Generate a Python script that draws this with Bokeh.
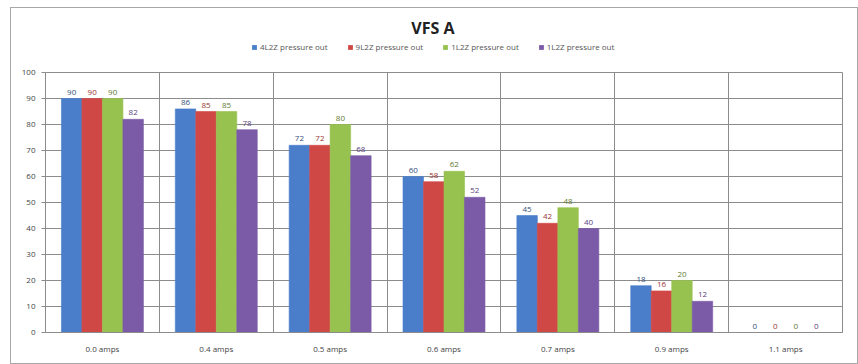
from bokeh.plotting import figure
from bokeh.layouts import column
from bokeh.models import (ColumnDataSource, FixedTicker, Legend, LegendItem,
                          LabelSet, Label, Range1d)
from bokeh.core.properties import value
from bokeh.embed import file_html
from bokeh.resources import INLINE

# Drive current steps and the four pressure series
categories = ["0.0 amps", "0.4 amps", "0.5 amps", "0.6 amps", "0.7 amps", "0.9 amps", "1.1 amps"]
series_names = ["4L2Z pressure out", "9L2Z pressure out", "1L2Z pressure out", "1L2Z pressure out"]
s1 = [90, 86, 72, 60, 45, 18, 0]
s2 = [90, 85, 72, 58, 42, 16, 0]
s3 = [90, 85, 80, 62, 48, 20, 0]
s4 = [82, 78, 68, 52, 40, 12, 0]
y_ticks = [0, 10, 20, 30, 40, 50, 60, 70, 80, 90, 100]

colors = ["#4a7ecb", "#d04846", "#97c24f", "#7b5ba7"]
label_colors = ["#34507a", "#9a3533", "#5e7a30", "#5a4380"]
offsets = [-0.27, -0.09, 0.09, 0.27]
bar_w = 0.18
FONT = "Open Sans"

# ---- header: chart title and series legend ----
head = figure(width=846, height=58, output_backend="svg", toolbar_location=None,
              x_range=Range1d(0, 1), y_range=Range1d(0, 1),
              min_border=0, outline_line_color=None)
head.axis.visible = False
head.grid.visible = False
head.add_layout(Label(x=0.486, y=0.67, text="VFS A", text_align="center",
                      text_baseline="middle", text_font=FONT,
                      text_font_size="16px", text_font_style="bold",
                      text_color="#222222"))
legend_items = []
for k in range(4):
    # zero-height swatch proxies: only their legend glyph shows
    r = head.vbar(x=[0.5], top=[0], bottom=[0], width=0.01,
                  fill_color=colors[k], line_color=colors[k], line_alpha=0)
    legend_items.append(LegendItem(label=series_names[k], renderers=[r]))
head.add_layout(Legend(items=legend_items, orientation="horizontal", location=(206, 14),
                       label_text_font=FONT, label_text_font_size="8px",
                       label_text_color="#555555", glyph_width=6, glyph_height=6,
                       spacing=19, padding=2, margin=0, border_line_color=None,
                       background_fill_alpha=0, label_standoff=3, label_height=8))

# ---- main bar chart ----
p = figure(width=846, height=297, output_backend="svg", toolbar_location=None,
           x_range=Range1d(0, len(categories)), y_range=Range1d(0, 100),
           min_border_left=34, min_border_right=15, min_border_top=6,
           min_border_bottom=31)

p.outline_line_color = "#8c8c8c"
p.background_fill_color = "white"
p.border_fill_color = "white"

# grid: horizontal every 10, vertical at category boundaries
p.ygrid.ticker = FixedTicker(ticks=y_ticks)
p.ygrid.grid_line_color = "#8c8c8c"
p.xgrid.ticker = FixedTicker(ticks=list(range(len(categories) + 1)))
p.xgrid.grid_line_color = "#8c8c8c"

p.yaxis.ticker = FixedTicker(ticks=y_ticks)
p.xaxis.ticker = FixedTicker(ticks=[i + 0.5 for i in range(len(categories))])
p.xaxis.major_label_overrides = {i + 0.5: c for i, c in enumerate(categories)}
for ax in (p.xaxis, p.yaxis):
    ax.axis_line_color = "#8c8c8c"
    ax.major_tick_line_color = "#8c8c8c"
    ax.minor_tick_line_color = None
    ax.major_label_text_font = FONT
    ax.major_label_text_font_size = "8px"
    ax.major_label_text_color = "#444444"
p.xaxis.major_tick_line_color = None
p.xaxis.major_label_standoff = 4
p.yaxis.major_tick_in = 0
p.yaxis.major_tick_out = 4
p.yaxis.major_label_standoff = 6

for k, vals in enumerate([s1, s2, s3, s4]):
    src = ColumnDataSource(dict(
        x=[i + 0.5 + offsets[k] for i in range(len(categories))],
        top=vals,
        lbl=[str(v) for v in vals],
    ))
    p.vbar(x="x", top="top", width=bar_w, source=src,
           fill_color=colors[k], line_color=colors[k], line_alpha=0.6)
    p.add_layout(LabelSet(x="x", y="top", text="lbl", source=src,
                          text_align="center", text_baseline="bottom",
                          y_offset=4, text_font=value(FONT),
                          text_font_size="8px", text_color=label_colors[k]))

page = column(head, p, spacing=0, margin=(7, 0, 0, 10),
              styles={"border": "1px solid #a8a8a8"})

open("out.html", "w").write(file_html(page, INLINE))
